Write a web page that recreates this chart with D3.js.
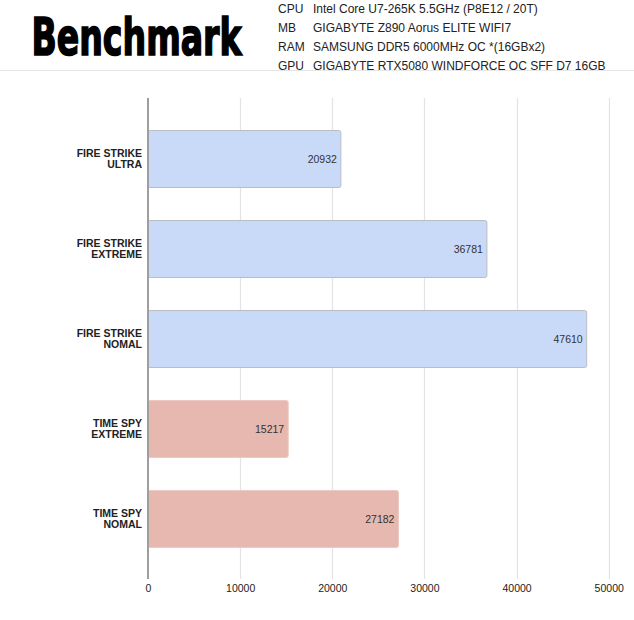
<!DOCTYPE html>
<html><head><meta charset="utf-8">
<script src="https://cdn.jsdelivr.net/npm/d3@7/dist/d3.min.js"></script>
<style>body{margin:0;background:#fff;}svg{display:block;}</style>
</head><body>
<script>
const categories = [["FIRE STRIKE","ULTRA"],["FIRE STRIKE","EXTREME"],["FIRE STRIKE","NOMAL"],["TIME SPY","EXTREME"],["TIME SPY","NOMAL"]];
const values = [20932, 36781, 47610, 15217, 27182];
const groups = ["fire","fire","fire","time","time"];
const xTicks = [0, 10000, 20000, 30000, 40000, 50000];
const specLabels = ["CPU","MB","RAM","GPU"];
const specValues = ["Intel Core U7-265K 5.5GHz (P8E12 / 20T)","GIGABYTE Z890 Aorus ELITE WIFI7","SAMSUNG DDR5 6000MHz OC *(16GBx2)","GIGABYTE RTX5080 WINDFORCE OC SFF D7 16GB"];

const W = 634, H = 620;
const svg = d3.select("body").append("svg").attr("width", W).attr("height", H);

// header
svg.append("line").attr("x1",0).attr("x2",W).attr("y1",70.5).attr("y2",70.5).attr("stroke","#e6e6e6").attr("stroke-width",1);
const title = svg.append("text").attr("x",0).attr("y",0)
  .attr("font-family","'DejaVu Sans Condensed','DejaVu Sans',sans-serif").attr("font-stretch","condensed")
  .attr("font-weight","bold").attr("font-size",52).attr("fill","#000")
  .attr("stroke","#000").attr("stroke-width",1.6).attr("stroke-linejoin","miter")
  .text("Benchmark");
const natW = title.node().getComputedTextLength();
title.attr("transform",`translate(31.5,55) scale(${210/natW},1)`);

const specY = d3.scalePoint().domain(specLabels).range([12.7, 69.5]);
const spec = svg.append("g").attr("font-family","'Liberation Sans',Arial,sans-serif").attr("font-size",12).attr("fill","#222");
specLabels.forEach((lab,i)=>{
  spec.append("text").attr("x",278).attr("y",specY(lab)).text(lab);
  spec.append("text").attr("x",313).attr("y",specY(lab)).text(specValues[i]);
});

// chart
const x = d3.scaleLinear().domain([0, 50000]).range([148, 608.7]);
const y = d3.scaleBand().domain(d3.range(categories.length)).range([114, 564]).paddingInner(0.356).paddingOuter(0.178);
const gridTop = 98, gridBot = 579;

svg.append("g").selectAll("line").data(xTicks.slice(1)).join("line")
  .attr("x1",d=>Math.round(x(d))+0.5).attr("x2",d=>Math.round(x(d))+0.5)
  .attr("y1",gridTop).attr("y2",gridBot).attr("stroke","#e3e3e3").attr("stroke-width",1.2);

const fill = {fire:"#c9daf8", time:"#e6b8af"};
const stroke = {fire:"#b9bcc2", time:"#ecc9c3"};
svg.append("g").selectAll("rect").data(values).join("rect")
  .attr("x", x(0)).attr("y",(d,i)=>y(i)+0.5)
  .attr("width",d=>x(d)-x(0)).attr("height",y.bandwidth()-1)
  .attr("rx",2).attr("ry",2)
  .attr("fill",(d,i)=>fill[groups[i]]).attr("stroke",(d,i)=>stroke[groups[i]]).attr("stroke-width",1);

// axis line
svg.append("line").attr("x1",x(0)).attr("x2",x(0)).attr("y1",gridTop).attr("y2",gridBot).attr("stroke","#9e9e9e").attr("stroke-width",2);

// value labels
svg.append("g").attr("font-family","'Liberation Sans',Arial,sans-serif").attr("font-size",10.5).attr("fill","#333")
  .selectAll("text").data(values).join("text")
  .attr("x",d=>x(d)-4).attr("y",(d,i)=>y(i)+y.bandwidth()/2).attr("dy","0.35em")
  .attr("text-anchor","end").text(d=>d);

// category labels
const cat = svg.append("g").attr("font-family","'Liberation Sans',Arial,sans-serif").attr("font-size",10.5).attr("font-weight","bold").attr("fill","#222").attr("text-anchor","end");
categories.forEach((c,i)=>{
  const cy = y(i)+y.bandwidth()/2;
  const t = cat.append("text").attr("x",142).attr("y",cy);
  c.forEach((line,j)=>{
    t.append("tspan").attr("x",142).attr("y",cy + (j - (c.length-1)/2)*11).attr("dy","0.35em").text(line);
  });
});

// x axis tick labels
const xa = d3.axisBottom(x).tickValues(xTicks).tickSize(0).tickPadding(0).tickFormat(d3.format("d"));
const gx = svg.append("g").attr("transform","translate(0,585)").call(xa);
gx.select(".domain").remove();
gx.selectAll("text").attr("font-family","'Liberation Sans',Arial,sans-serif").attr("font-size",10.5).attr("fill","#222");
</script>
</body></html>
